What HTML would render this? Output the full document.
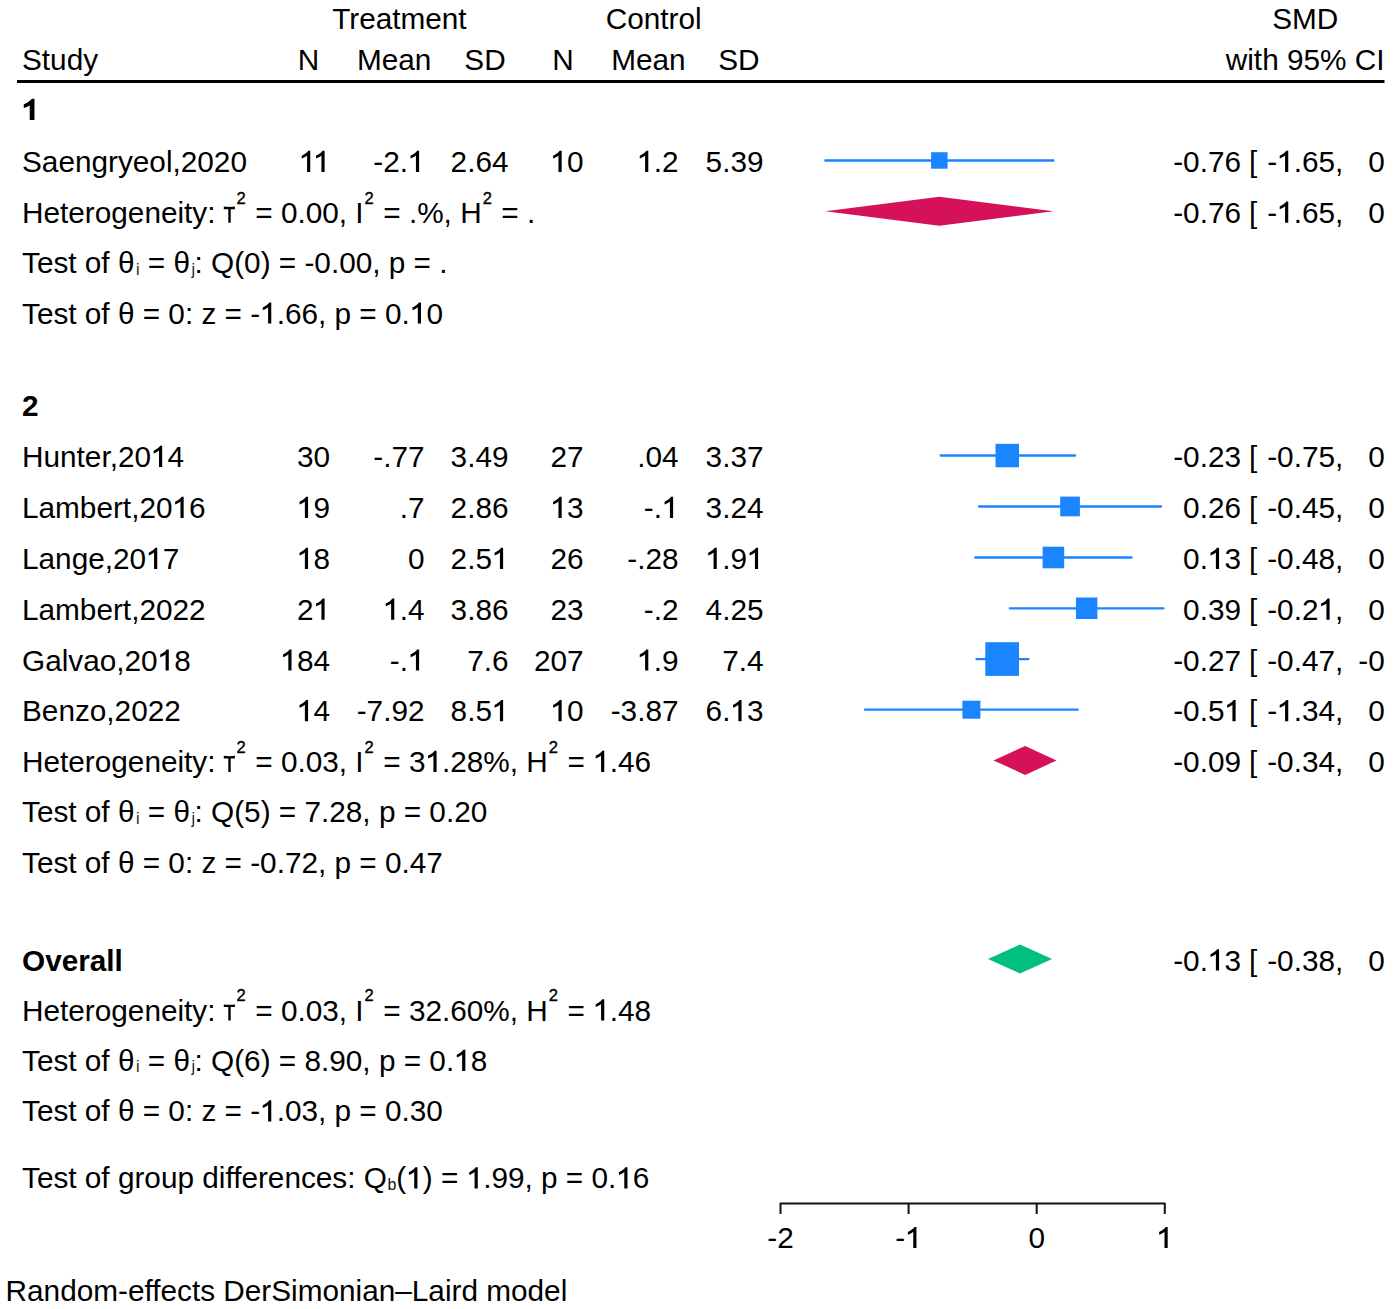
<!DOCTYPE html>
<html><head><meta charset="utf-8"><style>
html,body{margin:0;padding:0;background:#fff;}
svg{display:block;font-family:"Liberation Sans",sans-serif;}
.o{fill-opacity:0;}
</style></head><body>
<svg width="1395" height="1309" viewBox="0 0 1395 1309">
<rect width="1395" height="1309" fill="#fff"/>
<g clip-path="url(#c)">
<text x="399.4" y="29.4" text-anchor="middle" font-size="29.75" font-weight="normal" fill="#000" >Treatment</text>
<text x="653.6" y="29.4" text-anchor="middle" font-size="29.75" font-weight="normal" fill="#000" >Control</text>
<text x="1305.2" y="29.4" text-anchor="middle" font-size="29.75" font-weight="normal" fill="#000" >SMD</text>
<text x="22.0" y="69.5" text-anchor="start" font-size="29.75" font-weight="normal" fill="#000" >Study</text>
<text x="308.5" y="69.5" text-anchor="middle" font-size="29.75" font-weight="normal" fill="#000" >N</text>
<text x="394.2" y="69.5" text-anchor="middle" font-size="29.75" font-weight="normal" fill="#000" >Mean</text>
<text x="485.0" y="69.5" text-anchor="middle" font-size="29.75" font-weight="normal" fill="#000" >SD</text>
<text x="563.1" y="69.5" text-anchor="middle" font-size="29.75" font-weight="normal" fill="#000" >N</text>
<text x="648.4" y="69.5" text-anchor="middle" font-size="29.75" font-weight="normal" fill="#000" >Mean</text>
<text x="738.9" y="69.5" text-anchor="middle" font-size="29.75" font-weight="normal" fill="#000" >SD</text>
<text x="1384.5" y="69.5" text-anchor="end" font-size="29.75" font-weight="normal" fill="#000" >with 95% CI</text>
<rect x="17" y="80" width="1367.5" height="3" fill="#000"/>
<text x="22.0" y="120.0" text-anchor="start" font-size="29.75" font-weight="bold" fill="#000" ><tspan class="o">1</tspan></text>
<text x="22.0" y="172.0" text-anchor="start" font-size="29.75" font-weight="normal" fill="#000" >Saengryeol,2020</text>
<text x="330.0" y="172.0" text-anchor="end" font-size="29.75" font-weight="normal" fill="#000" ><tspan class="o">1</tspan><tspan class="o">1</tspan></text>
<text x="424.5" y="172.0" text-anchor="end" font-size="29.75" font-weight="normal" fill="#000" >-2.<tspan class="o">1</tspan></text>
<text x="508.5" y="172.0" text-anchor="end" font-size="29.75" font-weight="normal" fill="#000" >2.64</text>
<text x="583.6" y="172.0" text-anchor="end" font-size="29.75" font-weight="normal" fill="#000" ><tspan class="o">1</tspan>0</text>
<text x="678.5" y="172.0" text-anchor="end" font-size="29.75" font-weight="normal" fill="#000" ><tspan class="o">1</tspan>.2</text>
<text x="763.5" y="172.0" text-anchor="end" font-size="29.75" font-weight="normal" fill="#000" >5.39</text>
<line x1="825.3" y1="160.5" x2="1053.4" y2="160.5" stroke="#1a85ff" stroke-width="2.3" stroke-linecap="round"/>
<rect x="931.1" y="152.2" width="16.5" height="16.5" fill="#1a85ff"/>
<text x="1241.0" y="172.0" text-anchor="end" font-size="29.75" font-weight="normal" fill="#000" >-0.76</text>
<text x="1249.0" y="172.0" text-anchor="start" font-size="29.75" font-weight="normal" fill="#000" >[</text>
<text x="1335.0" y="172.0" text-anchor="end" font-size="29.75" font-weight="normal" fill="#000" >-<tspan class="o">1</tspan>.65</text>
<text x="1335.0" y="172.0" text-anchor="start" font-size="29.75" font-weight="normal" fill="#000" >,</text>
<text x="1434.3" y="172.0" text-anchor="end" font-size="29.75" font-weight="normal" fill="#000" >0.<tspan class="o">1</tspan>3]</text>
<text x="22" y="222.7" font-size="29.75" xml:space="preserve">Heterogeneity:<tspan font-size="16.5" stroke="#000" stroke-width="0.35" dx="21.1" dy="-19.2">2</tspan><tspan dx="1.2" dy="19.2"> = 0.00, I</tspan><tspan font-size="16.5" stroke="#000" stroke-width="0.35" dx="1" dy="-19.2">2</tspan><tspan dx="1.2" dy="19.2"> = .%, H</tspan><tspan font-size="16.5" stroke="#000" stroke-width="0.35" dx="1" dy="-19.2">2</tspan><tspan dx="1.2" dy="19.2"> = .</tspan></text>
<path d="M223.8 206.6 Q229.3 207.5 234.9 206.6 L234.9 209.2 L230.7 209.2 L230.7 222.7 L228.3 222.7 L228.3 209.2 L223.8 209.2 Z" fill="#000"/>
<polygon points="825.3,211.2 939.3,196.7 1053.4,211.2 939.3,225.7" fill="#d51159"/>
<text x="1241.0" y="222.7" text-anchor="end" font-size="29.75" font-weight="normal" fill="#000" >-0.76</text>
<text x="1249.0" y="222.7" text-anchor="start" font-size="29.75" font-weight="normal" fill="#000" >[</text>
<text x="1335.0" y="222.7" text-anchor="end" font-size="29.75" font-weight="normal" fill="#000" >-<tspan class="o">1</tspan>.65</text>
<text x="1335.0" y="222.7" text-anchor="start" font-size="29.75" font-weight="normal" fill="#000" >,</text>
<text x="1434.3" y="222.7" text-anchor="end" font-size="29.75" font-weight="normal" fill="#000" >0.<tspan class="o">1</tspan>3]</text>
<text x="22" y="273.3" font-size="29.75" xml:space="preserve">Test of θ<tspan font-size="16" fill="#222" dx="1.5" dy="1.2">i</tspan><tspan dy="-1.2"> = θ</tspan><tspan font-size="16" fill="#222" dx="1.5" dy="1.2">j</tspan><tspan dx="-0.5" dy="-1.2">: Q(0) = -0.00, p = .</tspan></text>
<text x="22" y="323.6" font-size="29.75" xml:space="preserve">Test of θ = 0: z = -<tspan class="o">1</tspan>.66, p = 0.<tspan class="o">1</tspan>0</text>
<text x="22.0" y="416.2" text-anchor="start" font-size="29.75" font-weight="bold" fill="#000" >2</text>
<text x="22.0" y="467.0" text-anchor="start" font-size="29.75" font-weight="normal" fill="#000" >Hunter,20<tspan class="o">1</tspan>4</text>
<text x="330.0" y="467.0" text-anchor="end" font-size="29.75" font-weight="normal" fill="#000" >30</text>
<text x="424.5" y="467.0" text-anchor="end" font-size="29.75" font-weight="normal" fill="#000" >-.77</text>
<text x="508.5" y="467.0" text-anchor="end" font-size="29.75" font-weight="normal" fill="#000" >3.49</text>
<text x="583.6" y="467.0" text-anchor="end" font-size="29.75" font-weight="normal" fill="#000" >27</text>
<text x="678.5" y="467.0" text-anchor="end" font-size="29.75" font-weight="normal" fill="#000" >.04</text>
<text x="763.5" y="467.0" text-anchor="end" font-size="29.75" font-weight="normal" fill="#000" >3.37</text>
<line x1="940.6" y1="455.5" x2="1075.1" y2="455.5" stroke="#1a85ff" stroke-width="2.3" stroke-linecap="round"/>
<rect x="995.5" y="443.8" width="23.5" height="23.5" fill="#1a85ff"/>
<text x="1241.0" y="467.0" text-anchor="end" font-size="29.75" font-weight="normal" fill="#000" >-0.23</text>
<text x="1249.0" y="467.0" text-anchor="start" font-size="29.75" font-weight="normal" fill="#000" >[</text>
<text x="1335.0" y="467.0" text-anchor="end" font-size="29.75" font-weight="normal" fill="#000" >-0.75</text>
<text x="1335.0" y="467.0" text-anchor="start" font-size="29.75" font-weight="normal" fill="#000" >,</text>
<text x="1434.3" y="467.0" text-anchor="end" font-size="29.75" font-weight="normal" fill="#000" >0.30]</text>
<text x="22.0" y="518.0" text-anchor="start" font-size="29.75" font-weight="normal" fill="#000" >Lambert,20<tspan class="o">1</tspan>6</text>
<text x="330.0" y="518.0" text-anchor="end" font-size="29.75" font-weight="normal" fill="#000" ><tspan class="o">1</tspan>9</text>
<text x="424.5" y="518.0" text-anchor="end" font-size="29.75" font-weight="normal" fill="#000" >.7</text>
<text x="508.5" y="518.0" text-anchor="end" font-size="29.75" font-weight="normal" fill="#000" >2.86</text>
<text x="583.6" y="518.0" text-anchor="end" font-size="29.75" font-weight="normal" fill="#000" ><tspan class="o">1</tspan>3</text>
<text x="678.5" y="518.0" text-anchor="end" font-size="29.75" font-weight="normal" fill="#000" >-.<tspan class="o">1</tspan></text>
<text x="763.5" y="518.0" text-anchor="end" font-size="29.75" font-weight="normal" fill="#000" >3.24</text>
<line x1="979.1" y1="506.5" x2="1161.0" y2="506.5" stroke="#1a85ff" stroke-width="2.3" stroke-linecap="round"/>
<rect x="1060.2" y="496.6" width="19.7" height="19.7" fill="#1a85ff"/>
<text x="1241.0" y="518.0" text-anchor="end" font-size="29.75" font-weight="normal" fill="#000" >0.26</text>
<text x="1249.0" y="518.0" text-anchor="start" font-size="29.75" font-weight="normal" fill="#000" >[</text>
<text x="1335.0" y="518.0" text-anchor="end" font-size="29.75" font-weight="normal" fill="#000" >-0.45</text>
<text x="1335.0" y="518.0" text-anchor="start" font-size="29.75" font-weight="normal" fill="#000" >,</text>
<text x="1434.3" y="518.0" text-anchor="end" font-size="29.75" font-weight="normal" fill="#000" >0.97]</text>
<text x="22.0" y="569.0" text-anchor="start" font-size="29.75" font-weight="normal" fill="#000" >Lange,20<tspan class="o">1</tspan>7</text>
<text x="330.0" y="569.0" text-anchor="end" font-size="29.75" font-weight="normal" fill="#000" ><tspan class="o">1</tspan>8</text>
<text x="424.5" y="569.0" text-anchor="end" font-size="29.75" font-weight="normal" fill="#000" >0</text>
<text x="508.5" y="569.0" text-anchor="end" font-size="29.75" font-weight="normal" fill="#000" >2.5<tspan class="o">1</tspan></text>
<text x="583.6" y="569.0" text-anchor="end" font-size="29.75" font-weight="normal" fill="#000" >26</text>
<text x="678.5" y="569.0" text-anchor="end" font-size="29.75" font-weight="normal" fill="#000" >-.28</text>
<text x="763.5" y="569.0" text-anchor="end" font-size="29.75" font-weight="normal" fill="#000" ><tspan class="o">1</tspan>.9<tspan class="o">1</tspan></text>
<line x1="975.2" y1="557.5" x2="1131.5" y2="557.5" stroke="#1a85ff" stroke-width="2.3" stroke-linecap="round"/>
<rect x="1042.6" y="546.7" width="21.6" height="21.6" fill="#1a85ff"/>
<text x="1241.0" y="569.0" text-anchor="end" font-size="29.75" font-weight="normal" fill="#000" >0.<tspan class="o">1</tspan>3</text>
<text x="1249.0" y="569.0" text-anchor="start" font-size="29.75" font-weight="normal" fill="#000" >[</text>
<text x="1335.0" y="569.0" text-anchor="end" font-size="29.75" font-weight="normal" fill="#000" >-0.48</text>
<text x="1335.0" y="569.0" text-anchor="start" font-size="29.75" font-weight="normal" fill="#000" >,</text>
<text x="1434.3" y="569.0" text-anchor="end" font-size="29.75" font-weight="normal" fill="#000" >0.74]</text>
<text x="22.0" y="619.8" text-anchor="start" font-size="29.75" font-weight="normal" fill="#000" >Lambert,2022</text>
<text x="330.0" y="619.8" text-anchor="end" font-size="29.75" font-weight="normal" fill="#000" >2<tspan class="o">1</tspan></text>
<text x="424.5" y="619.8" text-anchor="end" font-size="29.75" font-weight="normal" fill="#000" ><tspan class="o">1</tspan>.4</text>
<text x="508.5" y="619.8" text-anchor="end" font-size="29.75" font-weight="normal" fill="#000" >3.86</text>
<text x="583.6" y="619.8" text-anchor="end" font-size="29.75" font-weight="normal" fill="#000" >23</text>
<text x="678.5" y="619.8" text-anchor="end" font-size="29.75" font-weight="normal" fill="#000" >-.2</text>
<text x="763.5" y="619.8" text-anchor="end" font-size="29.75" font-weight="normal" fill="#000" >4.25</text>
<line x1="1009.8" y1="608.3" x2="1163.5" y2="608.3" stroke="#1a85ff" stroke-width="2.3" stroke-linecap="round"/>
<rect x="1075.9" y="597.5" width="21.5" height="21.5" fill="#1a85ff"/>
<text x="1241.0" y="619.8" text-anchor="end" font-size="29.75" font-weight="normal" fill="#000" >0.39</text>
<text x="1249.0" y="619.8" text-anchor="start" font-size="29.75" font-weight="normal" fill="#000" >[</text>
<text x="1335.0" y="619.8" text-anchor="end" font-size="29.75" font-weight="normal" fill="#000" >-0.2<tspan class="o">1</tspan></text>
<text x="1335.0" y="619.8" text-anchor="start" font-size="29.75" font-weight="normal" fill="#000" >,</text>
<text x="1434.3" y="619.8" text-anchor="end" font-size="29.75" font-weight="normal" fill="#000" >0.99]</text>
<text x="22.0" y="670.6" text-anchor="start" font-size="29.75" font-weight="normal" fill="#000" >Galvao,20<tspan class="o">1</tspan>8</text>
<text x="330.0" y="670.6" text-anchor="end" font-size="29.75" font-weight="normal" fill="#000" ><tspan class="o">1</tspan>84</text>
<text x="424.5" y="670.6" text-anchor="end" font-size="29.75" font-weight="normal" fill="#000" >-.<tspan class="o">1</tspan></text>
<text x="508.5" y="670.6" text-anchor="end" font-size="29.75" font-weight="normal" fill="#000" >7.6</text>
<text x="583.6" y="670.6" text-anchor="end" font-size="29.75" font-weight="normal" fill="#000" >207</text>
<text x="678.5" y="670.6" text-anchor="end" font-size="29.75" font-weight="normal" fill="#000" ><tspan class="o">1</tspan>.9</text>
<text x="763.5" y="670.6" text-anchor="end" font-size="29.75" font-weight="normal" fill="#000" >7.4</text>
<line x1="976.5" y1="659.1" x2="1028.4" y2="659.1" stroke="#1a85ff" stroke-width="2.3" stroke-linecap="round"/>
<rect x="985.3" y="642.2" width="33.7" height="33.7" fill="#1a85ff"/>
<text x="1241.0" y="670.6" text-anchor="end" font-size="29.75" font-weight="normal" fill="#000" >-0.27</text>
<text x="1249.0" y="670.6" text-anchor="start" font-size="29.75" font-weight="normal" fill="#000" >[</text>
<text x="1335.0" y="670.6" text-anchor="end" font-size="29.75" font-weight="normal" fill="#000" >-0.47</text>
<text x="1335.0" y="670.6" text-anchor="start" font-size="29.75" font-weight="normal" fill="#000" >,</text>
<text x="1434.3" y="670.6" text-anchor="end" font-size="29.75" font-weight="normal" fill="#000" >-0.07]</text>
<text x="22.0" y="721.2" text-anchor="start" font-size="29.75" font-weight="normal" fill="#000" >Benzo,2022</text>
<text x="330.0" y="721.2" text-anchor="end" font-size="29.75" font-weight="normal" fill="#000" ><tspan class="o">1</tspan>4</text>
<text x="424.5" y="721.2" text-anchor="end" font-size="29.75" font-weight="normal" fill="#000" >-7.92</text>
<text x="508.5" y="721.2" text-anchor="end" font-size="29.75" font-weight="normal" fill="#000" >8.5<tspan class="o">1</tspan></text>
<text x="583.6" y="721.2" text-anchor="end" font-size="29.75" font-weight="normal" fill="#000" ><tspan class="o">1</tspan>0</text>
<text x="678.5" y="721.2" text-anchor="end" font-size="29.75" font-weight="normal" fill="#000" >-3.87</text>
<text x="763.5" y="721.2" text-anchor="end" font-size="29.75" font-weight="normal" fill="#000" >6.<tspan class="o">1</tspan>3</text>
<line x1="865.0" y1="709.7" x2="1077.7" y2="709.7" stroke="#1a85ff" stroke-width="2.3" stroke-linecap="round"/>
<rect x="962.4" y="700.7" width="18" height="18" fill="#1a85ff"/>
<text x="1241.0" y="721.2" text-anchor="end" font-size="29.75" font-weight="normal" fill="#000" >-0.5<tspan class="o">1</tspan></text>
<text x="1249.0" y="721.2" text-anchor="start" font-size="29.75" font-weight="normal" fill="#000" >[</text>
<text x="1335.0" y="721.2" text-anchor="end" font-size="29.75" font-weight="normal" fill="#000" >-<tspan class="o">1</tspan>.34</text>
<text x="1335.0" y="721.2" text-anchor="start" font-size="29.75" font-weight="normal" fill="#000" >,</text>
<text x="1434.3" y="721.2" text-anchor="end" font-size="29.75" font-weight="normal" fill="#000" >0.32]</text>
<text x="22" y="771.9" font-size="29.75" xml:space="preserve">Heterogeneity:<tspan font-size="16.5" stroke="#000" stroke-width="0.35" dx="21.1" dy="-19.2">2</tspan><tspan dx="1.2" dy="19.2"> = 0.03, I</tspan><tspan font-size="16.5" stroke="#000" stroke-width="0.35" dx="1" dy="-19.2">2</tspan><tspan dx="1.2" dy="19.2"> = 3<tspan class="o">1</tspan>.28%, H</tspan><tspan font-size="16.5" stroke="#000" stroke-width="0.35" dx="1" dy="-19.2">2</tspan><tspan dx="1.2" dy="19.2"> = <tspan class="o">1</tspan>.46</tspan></text>
<path d="M223.8 755.8 Q229.3 756.7 234.9 755.8 L234.9 758.4 L230.7 758.4 L230.7 771.9 L228.3 771.9 L228.3 758.4 L223.8 758.4 Z" fill="#000"/>
<polygon points="993.5,760.4 1025.2,745.9 1056.6,760.4 1025.2,774.9" fill="#d51159"/>
<text x="1241.0" y="771.9" text-anchor="end" font-size="29.75" font-weight="normal" fill="#000" >-0.09</text>
<text x="1249.0" y="771.9" text-anchor="start" font-size="29.75" font-weight="normal" fill="#000" >[</text>
<text x="1335.0" y="771.9" text-anchor="end" font-size="29.75" font-weight="normal" fill="#000" >-0.34</text>
<text x="1335.0" y="771.9" text-anchor="start" font-size="29.75" font-weight="normal" fill="#000" >,</text>
<text x="1434.3" y="771.9" text-anchor="end" font-size="29.75" font-weight="normal" fill="#000" >0.<tspan class="o">1</tspan>6]</text>
<text x="22" y="822.3" font-size="29.75" xml:space="preserve">Test of θ<tspan font-size="16" fill="#222" dx="1.5" dy="1.2">i</tspan><tspan dy="-1.2"> = θ</tspan><tspan font-size="16" fill="#222" dx="1.5" dy="1.2">j</tspan><tspan dx="-0.5" dy="-1.2">: Q(5) = 7.28, p = 0.20</tspan></text>
<text x="22" y="873.2" font-size="29.75" xml:space="preserve">Test of θ = 0: z = -0.72, p = 0.47</text>
<text x="22.0" y="970.5" text-anchor="start" font-size="29.75" font-weight="bold" fill="#000" >Overall</text>
<polygon points="988.0,959.0 1020.0,944.5 1052.1,959.0 1020.0,973.5" fill="#00bf7f"/>
<text x="1241.0" y="970.5" text-anchor="end" font-size="29.75" font-weight="normal" fill="#000" >-0.<tspan class="o">1</tspan>3</text>
<text x="1249.0" y="970.5" text-anchor="start" font-size="29.75" font-weight="normal" fill="#000" >[</text>
<text x="1335.0" y="970.5" text-anchor="end" font-size="29.75" font-weight="normal" fill="#000" >-0.38</text>
<text x="1335.0" y="970.5" text-anchor="start" font-size="29.75" font-weight="normal" fill="#000" >,</text>
<text x="1434.3" y="970.5" text-anchor="end" font-size="29.75" font-weight="normal" fill="#000" >0.<tspan class="o">1</tspan>2]</text>
<text x="22" y="1020.5" font-size="29.75" xml:space="preserve">Heterogeneity:<tspan font-size="16.5" stroke="#000" stroke-width="0.35" dx="21.1" dy="-19.2">2</tspan><tspan dx="1.2" dy="19.2"> = 0.03, I</tspan><tspan font-size="16.5" stroke="#000" stroke-width="0.35" dx="1" dy="-19.2">2</tspan><tspan dx="1.2" dy="19.2"> = 32.60%, H</tspan><tspan font-size="16.5" stroke="#000" stroke-width="0.35" dx="1" dy="-19.2">2</tspan><tspan dx="1.2" dy="19.2"> = <tspan class="o">1</tspan>.48</tspan></text>
<path d="M223.8 1004.4 Q229.3 1005.3 234.9 1004.4 L234.9 1007.0 L230.7 1007.0 L230.7 1020.5 L228.3 1020.5 L228.3 1007.0 L223.8 1007.0 Z" fill="#000"/>
<text x="22" y="1071" font-size="29.75" xml:space="preserve">Test of θ<tspan font-size="16" fill="#222" dx="1.5" dy="1.2">i</tspan><tspan dy="-1.2"> = θ</tspan><tspan font-size="16" fill="#222" dx="1.5" dy="1.2">j</tspan><tspan dx="-0.5" dy="-1.2">: Q(6) = 8.90, p = 0.<tspan class="o">1</tspan>8</tspan></text>
<text x="22" y="1121.4" font-size="29.75" xml:space="preserve">Test of θ = 0: z = -<tspan class="o">1</tspan>.03, p = 0.30</text>
<text x="22" y="1188.4" font-size="29.75" xml:space="preserve">Test of group differences: Q<tspan font-size="16" fill="#111" dx="0.5" dy="2">b</tspan><tspan dy="-2">(<tspan class="o">1</tspan>) = <tspan class="o">1</tspan>.99, p = 0.<tspan class="o">1</tspan>6</tspan></text>
<path d="M780.5 1214 V1203.6 H1164.8 V1214" fill="none" stroke="#111" stroke-width="2" stroke-linejoin="round"/>
<line x1="908.6" y1="1203.6" x2="908.6" y2="1214" stroke="#111" stroke-width="2"/>
<line x1="1036.7" y1="1203.6" x2="1036.7" y2="1214" stroke="#111" stroke-width="2"/>
<text x="780.5" y="1248.1" text-anchor="middle" font-size="29.75" font-weight="normal" fill="#000" >-2</text>
<text x="908.6" y="1248.1" text-anchor="middle" font-size="29.75" font-weight="normal" fill="#000" >-<tspan class="o">1</tspan></text>
<text x="1036.7" y="1248.1" text-anchor="middle" font-size="29.75" font-weight="normal" fill="#000" >0</text>
<text x="1164.8" y="1248.1" text-anchor="middle" font-size="29.75" font-weight="normal" fill="#000" ><tspan class="o">1</tspan></text>
<text x="5.6" y="1301.3" font-size="29.75">Random-effects DerSimonian–Laird model</text>
<g fill="#000"><path d="M34.49,120.00 L29.73,120.00 L29.73,105.42 C27.95,106.61 25.87,107.50 23.79,108.10 L23.79,104.23 C25.57,103.64 27.65,102.45 29.14,101.26 C30.63,100.07 31.52,99.17 31.82,98.70 L34.49,98.70 Z"/><path d="M310.27,172.00 L307.08,172.00 L307.08,155.58 C306.40,156.17 305.48,156.77 304.46,157.30 C303.45,157.84 302.53,158.26 301.73,158.55 L301.73,155.79 C303.27,155.16 304.64,154.33 305.83,153.35 C307.02,152.37 307.80,151.47 308.21,150.82 L310.27,150.82 Z"/><path d="M324.61,172.00 L321.43,172.00 L321.43,155.58 C320.74,156.17 319.82,156.77 318.81,157.30 C317.80,157.84 316.87,158.26 316.07,158.55 L316.07,155.79 C317.62,155.16 318.99,154.33 320.18,153.35 C321.37,152.37 322.14,151.47 322.56,150.82 L324.61,150.82 Z"/><path d="M419.11,172.00 L415.93,172.00 L415.93,155.58 C415.24,156.17 414.32,156.77 413.31,157.30 C412.30,157.84 411.37,158.26 410.57,158.55 L410.57,155.79 C412.12,155.16 413.49,154.33 414.68,153.35 C415.87,152.37 416.64,151.47 417.06,150.82 L419.11,150.82 Z"/><path d="M561.66,172.00 L558.48,172.00 L558.48,155.58 C557.79,156.17 556.87,156.77 555.86,157.30 C554.85,157.84 553.93,158.26 553.12,158.55 L553.12,155.79 C554.67,155.16 556.04,154.33 557.23,153.35 C558.42,152.37 559.19,151.47 559.61,150.82 L561.66,150.82 Z"/><path d="M648.30,172.00 L645.11,172.00 L645.11,155.58 C644.43,156.17 643.51,156.77 642.50,157.30 C641.48,157.84 640.56,158.26 639.76,158.55 L639.76,155.79 C641.31,155.16 642.67,154.33 643.86,153.35 C645.05,152.37 645.83,151.47 646.24,150.82 L648.30,150.82 Z"/><path d="M1288.25,172.00 L1285.07,172.00 L1285.07,155.58 C1284.38,156.17 1283.46,156.77 1282.45,157.30 C1281.44,157.84 1280.52,158.26 1279.71,158.55 L1279.71,155.79 C1281.26,155.16 1282.63,154.33 1283.82,153.35 C1285.01,152.37 1285.78,151.47 1286.20,150.82 L1288.25,150.82 Z"/><path d="M1404.10,172.00 L1400.91,172.00 L1400.91,155.58 C1400.23,156.17 1399.31,156.77 1398.30,157.30 C1397.28,157.84 1396.36,158.26 1395.56,158.55 L1395.56,155.79 C1397.11,155.16 1398.47,154.33 1399.66,153.35 C1400.85,152.37 1401.63,151.47 1402.04,150.82 L1404.10,150.82 Z"/><path d="M1288.25,222.70 L1285.07,222.70 L1285.07,206.28 C1284.38,206.87 1283.46,207.47 1282.45,208.00 C1281.44,208.54 1280.52,208.96 1279.71,209.25 L1279.71,206.49 C1281.26,205.86 1282.63,205.03 1283.82,204.05 C1285.01,203.06 1285.78,202.17 1286.20,201.52 L1288.25,201.52 Z"/><path d="M1404.10,222.70 L1400.91,222.70 L1400.91,206.28 C1400.23,206.87 1399.31,207.47 1398.30,208.00 C1397.28,208.54 1396.36,208.96 1395.56,209.25 L1395.56,206.49 C1397.11,205.86 1398.47,205.03 1399.66,204.05 C1400.85,203.06 1401.63,202.17 1402.04,201.52 L1404.10,201.52 Z"/><path d="M271.28,323.60 L268.10,323.60 L268.10,307.18 C267.41,307.77 266.49,308.37 265.48,308.90 C264.47,309.44 263.55,309.86 262.74,310.15 L262.74,307.39 C264.29,306.76 265.66,305.93 266.85,304.95 C268.04,303.97 268.81,303.07 269.23,302.42 L271.28,302.42 Z"/><path d="M420.98,323.60 L417.80,323.60 L417.80,307.18 C417.12,307.77 416.19,308.37 415.18,308.90 C414.17,309.44 413.25,309.86 412.45,310.15 L412.45,307.39 C413.99,306.76 415.36,305.93 416.55,304.95 C417.74,303.97 418.52,303.07 418.93,302.42 L420.98,302.42 Z"/><path d="M162.17,467.00 L158.99,467.00 L158.99,450.58 C158.30,451.17 157.38,451.77 156.37,452.30 C155.36,452.84 154.44,453.26 153.63,453.55 L153.63,450.79 C155.18,450.16 156.55,449.33 157.74,448.35 C158.93,447.37 159.70,446.47 160.12,445.82 L162.17,445.82 Z"/><path d="M183.66,518.00 L180.47,518.00 L180.47,501.58 C179.79,502.17 178.87,502.77 177.85,503.30 C176.84,503.84 175.92,504.26 175.12,504.55 L175.12,501.79 C176.66,501.16 178.03,500.33 179.22,499.35 C180.41,498.37 181.19,497.47 181.60,496.82 L183.66,496.82 Z"/><path d="M308.06,518.00 L304.88,518.00 L304.88,501.58 C304.19,502.17 303.27,502.77 302.26,503.30 C301.25,503.84 300.33,504.26 299.52,504.55 L299.52,501.79 C301.07,501.16 302.44,500.33 303.63,499.35 C304.82,498.37 305.59,497.47 306.01,496.82 L308.06,496.82 Z"/><path d="M561.66,518.00 L558.48,518.00 L558.48,501.58 C557.79,502.17 556.87,502.77 555.86,503.30 C554.85,503.84 553.93,504.26 553.12,504.55 L553.12,501.79 C554.67,501.16 556.04,500.33 557.23,499.35 C558.42,498.37 559.19,497.47 559.61,496.82 L561.66,496.82 Z"/><path d="M673.11,518.00 L669.93,518.00 L669.93,501.58 C669.24,502.17 668.32,502.77 667.31,503.30 C666.30,503.84 665.37,504.26 664.57,504.55 L664.57,501.79 C666.12,501.16 667.49,500.33 668.68,499.35 C669.87,498.37 670.64,497.47 671.06,496.82 L673.11,496.82 Z"/><path d="M157.25,569.00 L154.07,569.00 L154.07,552.58 C153.38,553.17 152.46,553.77 151.45,554.30 C150.44,554.84 149.51,555.26 148.71,555.55 L148.71,552.79 C150.26,552.16 151.63,551.33 152.82,550.35 C154.01,549.37 154.78,548.47 155.20,547.82 L157.25,547.82 Z"/><path d="M308.06,569.00 L304.88,569.00 L304.88,552.58 C304.19,553.17 303.27,553.77 302.26,554.30 C301.25,554.84 300.33,555.26 299.52,555.55 L299.52,552.79 C301.07,552.16 302.44,551.33 303.63,550.35 C304.82,549.37 305.59,548.47 306.01,547.82 L308.06,547.82 Z"/><path d="M503.11,569.00 L499.93,569.00 L499.93,552.58 C499.24,553.17 498.32,553.77 497.31,554.30 C496.30,554.84 495.37,555.26 494.57,555.55 L494.57,552.79 C496.12,552.16 497.49,551.33 498.68,550.35 C499.87,549.37 500.64,548.47 501.06,547.82 L503.11,547.82 Z"/><path d="M716.75,569.00 L713.57,569.00 L713.57,552.58 C712.88,553.17 711.96,553.77 710.95,554.30 C709.94,554.84 709.01,555.26 708.21,555.55 L708.21,552.79 C709.76,552.16 711.13,551.33 712.32,550.35 C713.51,549.37 714.28,548.47 714.70,547.82 L716.75,547.82 Z"/><path d="M758.11,569.00 L754.93,569.00 L754.93,552.58 C754.24,553.17 753.32,553.77 752.31,554.30 C751.30,554.84 750.37,555.26 749.57,555.55 L749.57,552.79 C751.12,552.16 752.49,551.33 753.68,550.35 C754.87,549.37 755.64,548.47 756.06,547.82 L758.11,547.82 Z"/><path d="M1219.06,569.00 L1215.88,569.00 L1215.88,552.58 C1215.19,553.17 1214.27,553.77 1213.26,554.30 C1212.25,554.84 1211.33,555.26 1210.52,555.55 L1210.52,552.79 C1212.07,552.16 1213.44,551.33 1214.63,550.35 C1215.82,549.37 1216.59,548.47 1217.01,547.82 L1219.06,547.82 Z"/><path d="M324.61,619.80 L321.43,619.80 L321.43,603.38 C320.74,603.97 319.82,604.57 318.81,605.10 C317.80,605.64 316.87,606.06 316.07,606.35 L316.07,603.59 C317.62,602.96 318.99,602.13 320.18,601.15 C321.37,600.16 322.14,599.27 322.56,598.62 L324.61,598.62 Z"/><path d="M394.30,619.80 L391.11,619.80 L391.11,603.38 C390.43,603.97 389.51,604.57 388.50,605.10 C387.48,605.64 386.56,606.06 385.76,606.35 L385.76,603.59 C387.31,602.96 388.67,602.13 389.86,601.15 C391.05,600.16 391.83,599.27 392.24,598.62 L394.30,598.62 Z"/><path d="M1329.61,619.80 L1326.43,619.80 L1326.43,603.38 C1325.74,603.97 1324.82,604.57 1323.81,605.10 C1322.80,605.64 1321.87,606.06 1321.07,606.35 L1321.07,603.59 C1322.62,602.96 1323.99,602.13 1325.18,601.15 C1326.37,600.16 1327.14,599.27 1327.56,598.62 L1329.61,598.62 Z"/><path d="M168.78,670.60 L165.60,670.60 L165.60,654.18 C164.91,654.77 163.99,655.37 162.98,655.90 C161.97,656.44 161.05,656.86 160.24,657.15 L160.24,654.39 C161.79,653.76 163.16,652.93 164.35,651.95 C165.54,650.96 166.31,650.07 166.73,649.42 L168.78,649.42 Z"/><path d="M291.52,670.60 L288.33,670.60 L288.33,654.18 C287.65,654.77 286.73,655.37 285.71,655.90 C284.70,656.44 283.78,656.86 282.98,657.15 L282.98,654.39 C284.52,653.76 285.89,652.93 287.08,651.95 C288.27,650.96 289.05,650.07 289.46,649.42 L291.52,649.42 Z"/><path d="M419.11,670.60 L415.93,670.60 L415.93,654.18 C415.24,654.77 414.32,655.37 413.31,655.90 C412.30,656.44 411.37,656.86 410.57,657.15 L410.57,654.39 C412.12,653.76 413.49,652.93 414.68,651.95 C415.87,650.96 416.64,650.07 417.06,649.42 L419.11,649.42 Z"/><path d="M648.30,670.60 L645.11,670.60 L645.11,654.18 C644.43,654.77 643.51,655.37 642.50,655.90 C641.48,656.44 640.56,656.86 639.76,657.15 L639.76,654.39 C641.31,653.76 642.67,652.93 643.86,651.95 C645.05,650.96 645.83,650.07 646.24,649.42 L648.30,649.42 Z"/><path d="M308.06,721.20 L304.88,721.20 L304.88,704.78 C304.19,705.37 303.27,705.97 302.26,706.50 C301.25,707.04 300.33,707.46 299.52,707.75 L299.52,704.99 C301.07,704.36 302.44,703.53 303.63,702.55 C304.82,701.57 305.59,700.67 306.01,700.02 L308.06,700.02 Z"/><path d="M503.11,721.20 L499.93,721.20 L499.93,704.78 C499.24,705.37 498.32,705.97 497.31,706.50 C496.30,707.04 495.37,707.46 494.57,707.75 L494.57,704.99 C496.12,704.36 497.49,703.53 498.68,702.55 C499.87,701.57 500.64,700.67 501.06,700.02 L503.11,700.02 Z"/><path d="M561.66,721.20 L558.48,721.20 L558.48,704.78 C557.79,705.37 556.87,705.97 555.86,706.50 C554.85,707.04 553.93,707.46 553.12,707.75 L553.12,704.99 C554.67,704.36 556.04,703.53 557.23,702.55 C558.42,701.57 559.19,700.67 559.61,700.02 L561.66,700.02 Z"/><path d="M741.56,721.20 L738.38,721.20 L738.38,704.78 C737.70,705.37 736.77,705.97 735.76,706.50 C734.75,707.04 733.83,707.46 733.02,707.75 L733.02,704.99 C734.57,704.36 735.94,703.53 737.13,702.55 C738.32,701.57 739.09,700.67 739.51,700.02 L741.56,700.02 Z"/><path d="M1235.61,721.20 L1232.43,721.20 L1232.43,704.78 C1231.74,705.37 1230.82,705.97 1229.81,706.50 C1228.80,707.04 1227.87,707.46 1227.07,707.75 L1227.07,704.99 C1228.62,704.36 1229.99,703.53 1231.18,702.55 C1232.37,701.57 1233.14,700.67 1233.56,700.02 L1235.61,700.02 Z"/><path d="M1288.25,721.20 L1285.07,721.20 L1285.07,704.78 C1284.38,705.37 1283.46,705.97 1282.45,706.50 C1281.44,707.04 1280.52,707.46 1279.71,707.75 L1279.71,704.99 C1281.26,704.36 1282.63,703.53 1283.82,702.55 C1285.01,701.57 1285.78,700.67 1286.20,700.02 L1288.25,700.02 Z"/><path d="M436.59,771.90 L433.41,771.90 L433.41,755.48 C432.73,756.07 431.80,756.67 430.79,757.20 C429.78,757.74 428.86,758.16 428.06,758.45 L428.06,755.69 C429.60,755.06 430.97,754.23 432.16,753.25 C433.35,752.27 434.12,751.37 434.54,750.72 L436.59,750.72 Z"/><path d="M604.26,771.90 L601.08,771.90 L601.08,755.48 C600.40,756.07 599.47,756.67 598.46,757.20 C597.45,757.74 596.53,758.16 595.72,758.45 L595.72,755.69 C597.27,755.06 598.64,754.23 599.83,753.25 C601.02,752.27 601.79,751.37 602.21,750.72 L604.26,750.72 Z"/><path d="M1404.10,771.90 L1400.91,771.90 L1400.91,755.48 C1400.23,756.07 1399.31,756.67 1398.30,757.20 C1397.28,757.74 1396.36,758.16 1395.56,758.45 L1395.56,755.69 C1397.11,755.06 1398.47,754.23 1399.66,753.25 C1400.85,752.27 1401.63,751.37 1402.04,750.72 L1404.10,750.72 Z"/><path d="M1219.06,970.50 L1215.88,970.50 L1215.88,954.08 C1215.19,954.67 1214.27,955.27 1213.26,955.80 C1212.25,956.34 1211.33,956.76 1210.52,957.05 L1210.52,954.29 C1212.07,953.66 1213.44,952.83 1214.63,951.85 C1215.82,950.87 1216.59,949.97 1217.01,949.32 L1219.06,949.32 Z"/><path d="M1404.10,970.50 L1400.91,970.50 L1400.91,954.08 C1400.23,954.67 1399.31,955.27 1398.30,955.80 C1397.28,956.34 1396.36,956.76 1395.56,957.05 L1395.56,954.29 C1397.11,953.66 1398.47,952.83 1399.66,951.85 C1400.85,950.87 1401.63,949.97 1402.04,949.32 L1404.10,949.32 Z"/><path d="M604.26,1020.50 L601.08,1020.50 L601.08,1004.08 C600.40,1004.67 599.47,1005.27 598.46,1005.80 C597.45,1006.34 596.53,1006.76 595.72,1007.05 L595.72,1004.29 C597.27,1003.66 598.64,1002.83 599.83,1001.85 C601.02,1000.87 601.79,999.97 602.21,999.32 L604.26,999.32 Z"/><path d="M465.33,1071.00 L462.14,1071.00 L462.14,1054.58 C461.46,1055.17 460.54,1055.77 459.53,1056.30 C458.52,1056.84 457.59,1057.26 456.79,1057.55 L456.79,1054.79 C458.34,1054.16 459.71,1053.33 460.90,1052.35 C462.09,1051.37 462.86,1050.47 463.28,1049.82 L465.33,1049.82 Z"/><path d="M271.28,1121.40 L268.10,1121.40 L268.10,1104.98 C267.41,1105.57 266.49,1106.17 265.48,1106.70 C264.47,1107.24 263.55,1107.66 262.74,1107.95 L262.74,1105.19 C264.29,1104.56 265.66,1103.73 266.85,1102.75 C268.04,1101.77 268.81,1100.87 269.23,1100.22 L271.28,1100.22 Z"/><path d="M417.41,1188.40 L414.22,1188.40 L414.22,1171.98 C413.54,1172.57 412.62,1173.17 411.61,1173.70 C410.59,1174.24 409.67,1174.66 408.87,1174.95 L408.87,1172.19 C410.42,1171.56 411.78,1170.73 412.97,1169.75 C414.16,1168.77 414.94,1167.87 415.35,1167.22 L417.41,1167.22 Z"/><path d="M477.77,1188.40 L474.58,1188.40 L474.58,1171.98 C473.90,1172.57 472.98,1173.17 471.96,1173.70 C470.95,1174.24 470.03,1174.66 469.23,1174.95 L469.23,1172.19 C470.77,1171.56 472.14,1170.73 473.33,1169.75 C474.52,1168.77 475.30,1167.87 475.71,1167.22 L477.77,1167.22 Z"/><path d="M627.47,1188.40 L624.29,1188.40 L624.29,1171.98 C623.60,1172.57 622.68,1173.17 621.67,1173.70 C620.66,1174.24 619.73,1174.66 618.93,1174.95 L618.93,1172.19 C620.48,1171.56 621.85,1170.73 623.04,1169.75 C624.23,1168.77 625.00,1167.87 625.42,1167.22 L627.47,1167.22 Z"/><path d="M916.44,1248.10 L913.26,1248.10 L913.26,1231.68 C912.58,1232.27 911.65,1232.87 910.64,1233.40 C909.63,1233.94 908.71,1234.36 907.91,1234.65 L907.91,1231.89 C909.45,1231.26 910.82,1230.43 912.01,1229.45 C913.20,1228.46 913.97,1227.57 914.39,1226.92 L916.44,1226.92 Z"/><path d="M1167.68,1248.10 L1164.50,1248.10 L1164.50,1231.68 C1163.82,1232.27 1162.89,1232.87 1161.88,1233.40 C1160.87,1233.94 1159.95,1234.36 1159.14,1234.65 L1159.14,1231.89 C1160.69,1231.26 1162.06,1230.43 1163.25,1229.45 C1164.44,1228.46 1165.21,1227.57 1165.63,1226.92 L1167.68,1226.92 Z"/></g>
</g>
<defs><clipPath id="c"><rect x="0" y="0" width="1385" height="1309"/></clipPath></defs>
</svg>
</body></html>
